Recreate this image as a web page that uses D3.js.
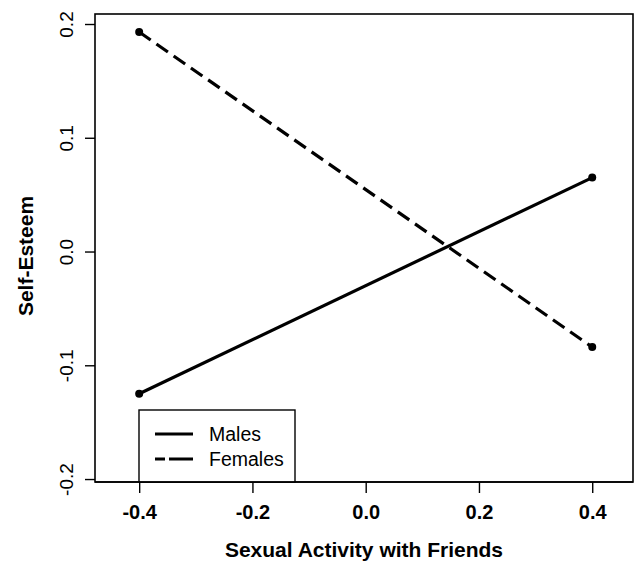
<!DOCTYPE html>
<html>
<head>
<meta charset="utf-8">
<script src="https://cdn.jsdelivr.net/npm/d3@7"></script>
<style>
  body { margin: 0; background: #fff; }
  text { font-family: "Liberation Sans", Arial, sans-serif; fill: #000; }
</style>
</head>
<body>
<div id="chart-area"></div>
<script>
// values
const activity = [-0.4, 0.4]
const males = [-0.125, 0.065]
const females = [0.193, -0.084]
const seriesNames = ["Males", "Females"]
const xTicks = [-0.4, -0.2, 0.0, 0.2, 0.4]
const yTicks = [-0.2, -0.1, 0.0, 0.1, 0.2]

const svg = d3.select("#chart-area").append("svg")
  .attr("width", 635)
  .attr("height", 564);

const x = d3.scaleLinear().domain([-0.478, 0.472]).range([95, 633]);
const y = d3.scaleLinear().domain([-0.2026, 0.2088]).range([482, 14]);

// plain hyphen minus like the original
const fmt = d => d3.format(".1f")(d).replace("\u2212", "-");

// plot box
svg.append("rect")
  .attr("x", x.range()[0]).attr("y", y.range()[1])
  .attr("width", x.range()[1] - x.range()[0])
  .attr("height", y.range()[0] - y.range()[1])
  .attr("fill", "none").attr("stroke", "#000").attr("stroke-width", 1.6);

// axes
const axisx = d3.axisBottom(x).tickValues(xTicks).tickFormat(fmt).tickSize(11).tickPadding(12);
const axisy = d3.axisLeft(y).tickValues(yTicks).tickFormat(fmt).tickSize(10).tickPadding(0);

const gx = svg.append("g").attr("transform", "translate(0,482)").call(axisx);
gx.select(".domain").remove();
gx.selectAll("line").attr("stroke-width", 1.4);
gx.selectAll("text")
  .attr("font-size", 20).attr("font-weight", "bold")
  .style("font-family", "'Liberation Sans', Arial, sans-serif")
  .attr("dy", "0.71em");

const gy = svg.append("g").attr("transform", "translate(95,0)").call(axisy);
gy.select(".domain").remove();
gy.selectAll("line").attr("stroke-width", 1.4);
gy.selectAll("text")
  .attr("font-size", 19)
  .style("font-family", "'Liberation Sans', Arial, sans-serif")
  .attr("x", null).attr("dy", null)
  .attr("text-anchor", "middle")
  .attr("transform", "translate(-22,0) rotate(-90)");

// axis titles
svg.append("text")
  .attr("x", (x.range()[0] + x.range()[1]) / 2).attr("y", 557)
  .attr("text-anchor", "middle")
  .attr("font-size", 21).attr("font-weight", "bold")
  .text("Sexual Activity with Friends");

svg.append("text")
  .attr("transform", "translate(33,256) rotate(-90)")
  .attr("text-anchor", "middle")
  .attr("font-size", 21).attr("font-weight", "bold")
  .text("Self-Esteem");

// lines + points
const series = [
  {name: seriesNames[0], values: males, dash: null},
  {name: seriesNames[1], values: females, dash: "14,7"}
];

const line = d3.line().x(d => x(d[0])).y(d => y(d[1]));

series.forEach(s => {
  const pts = activity.map((a, i) => [a, s.values[i]]);
  svg.append("path")
    .datum(pts)
    .attr("d", line)
    .attr("fill", "none").attr("stroke", "#000").attr("stroke-width", 3.2)
    .attr("stroke-dasharray", s.dash);
  svg.selectAll(null).data(pts).enter().append("circle")
    .attr("cx", d => x(d[0])).attr("cy", d => y(d[1]))
    .attr("r", 4).attr("fill", "#000");
});

// legend
const lg = svg.append("g").attr("transform", "translate(139,410)");
lg.append("rect")
  .attr("width", 156).attr("height", 72)
  .attr("fill", "#fff").attr("stroke", "#000").attr("stroke-width", 1.4);
series.forEach((s, i) => {
  const ly = 24 + i * 25;
  lg.append("line")
    .attr("x1", 16).attr("x2", 54).attr("y1", ly).attr("y2", ly)
    .attr("stroke", "#000").attr("stroke-width", 3.2)
    .attr("stroke-dasharray", s.dash ? "10,4,24" : null);
  lg.append("text")
    .attr("x", 70).attr("y", ly + 7)
    .attr("font-size", 19.5)
    .text(s.name);
});
// redraw bottom axis line over legend box
svg.append("line")
  .attr("x1", x.range()[0]).attr("x2", x.range()[1])
  .attr("y1", 482).attr("y2", 482)
  .attr("stroke", "#000").attr("stroke-width", 1.6);
</script>
</body>
</html>
